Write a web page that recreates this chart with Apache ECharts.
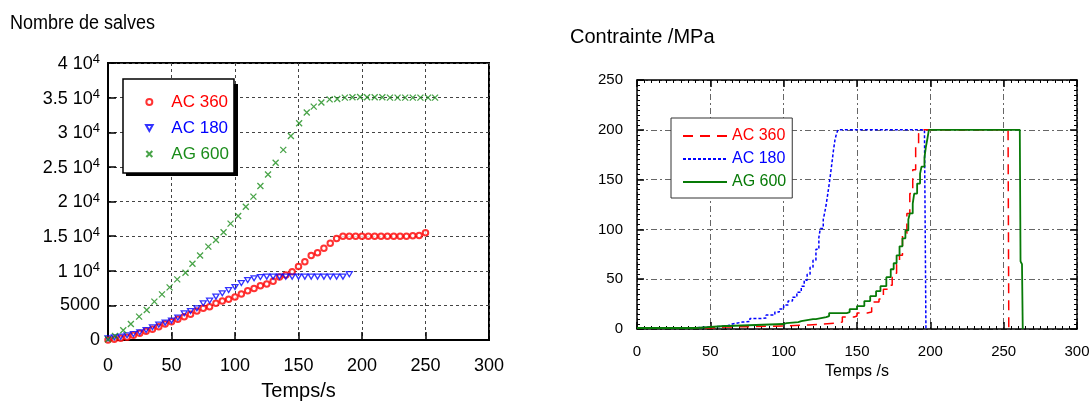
<!DOCTYPE html>
<html><head><meta charset="utf-8">
<script src="https://cdn.jsdelivr.net/npm/echarts@6/dist/echarts.min.js"></script>
<style>
html,body{margin:0;padding:0;background:#fff;}
#wrap{position:relative;width:1090px;height:401px;overflow:hidden;}
#c1{position:absolute;left:0;top:0;width:545px;height:401px;}
#c2{position:absolute;left:545px;top:0;width:545px;height:401px;}
</style>
</head><body><div id="wrap"><div id="c1"></div><div id="c2"></div></div>
<script>
// ---------- Left chart: Nombre de salves vs Temps ----------
const leftTitle = 'Nombre de salves';
const leftXName = 'Temps/s';
const seriesNames = ['AC 360', 'AC 180', 'AG 600'];
const leftYMantissa = ['0', '5000', '1', '1.5', '2', '2.5', '3', '3.5', '4'];
const leftYExponent = ['', '', '4', '4', '4', '4', '4', '4', '4'];

const salvesT_AC360 = [0,5,10,15,20,25,30,35,40,45,50,55,60,65,70,75,80,85,90,95,100,105,110,115,120,125,130,135,140,145,150,155,160,165,170,175,180,185,190,195,200,205,210,215,220,225,230,235,240,245,250];
const salvesV_AC360 = [0,100,245,385,670,960,1250,1540,1930,2310,2650,2980,3370,3710,4190,4570,4810,5290,5630,5870,6200,6650,7100,7450,7850,8090,8500,9100,9400,9850,10600,11300,12200,12600,13240,13960,14650,15000,15000,15000,15000,15000,15000,15000,15000,15000,15000,15000,15050,15100,15500];

const salvesT_AC180 = [0,5,10,15,20,25,30,35,40,45,50,55,60,65,70,75,80,85,90,95,100,105,110,115,120,125,130,135,140,145,150,155,160,165,170,175,180,185,190];
const salvesV_AC180 = [245,390,480,670,870,1110,1440,1830,2210,2500,2790,3220,3850,4190,4570,5290,5680,6260,6740,7220,7650,8230,8660,8900,9100,9150,9150,9150,9150,9150,9150,9150,9150,9150,9150,9150,9150,9150,9500];

const salvesT_AG600 = [0,5.5,12,18,24.5,30.5,36.5,42.5,48.5,54.5,61,66.5,72.5,79,85,91,96.5,102.5,108.5,114.5,120,126,132,138,144,150.5,156.5,162,168,174.5,180.5,186.5,192.5,198.5,204,210,216,222,228,234,240,246,252,257.5];
const salvesV_AG600 = [100,580,1400,2310,3370,4330,5540,6590,7600,8760,9720,11000,12200,13480,14440,15550,16800,17900,19250,20700,22250,23900,25600,27450,29450,31300,32850,33700,34300,34750,34800,35000,35050,35100,35050,35050,35050,35000,35000,35000,35000,35000,35000,35000];

// ---------- Right chart: Contrainte vs Temps ----------
const rightTitle = 'Contrainte /MPa';
const rightXName = 'Temps /s';

const stressT_AC360 = [0,45,50,60,62,100,102,115,117,137,140,148,150,157,160,165,168,171,174,177,179,181,184,186,188,190,192,193,253,253.5];
const stressV_AC360 = [1,1,2,2,3,3,4,4,6,7,12,13,16,17,27,30,40,44,56,65,74,96,116,136,160,183,196,200,200,0];

const stressT_AC180 = [0,38,50,61,65,72,77,84,88,94,97,100,103,106,109,112,114,116,118,120,122,124,125,127,128,129,130,131,132,133,134,135,136,137,196,197];
const stressV_AC180 = [1,2,3,5,7,7.5,10.5,11,14,17,20,24,28,32,37,43,49,55,62,69,80,92,101,110,117,125,135,145,156,168,180,190,196,200,200,0];

const stressT_AG600 = [0,35,40,60,62,100,102,110,112,120,122,129,131,143,145,150,155,159,163,166,170,173,175,177,179,181,183,185,186,188,189,191,193,194,196,197,198,199,261,261.5,262.5,263];
const stressV_AG600 = [1,1,3,3,5,6,7,8,10,10,12,13,16,17,20,23,28,33,38,43,52,60,66,74,83,91,99,110,116,126,136,146,156,163,172,183,191,200,200,68,65,0];

const pairs = (t, v) => t.map((x, i) => [x, v[i]]);
const FONT = '"Liberation Sans", Arial, sans-serif';

const RED = '#ff0000', BLUE = '#0000ff', GREEN_L = '#1a8c1a', GREEN_R = '#077a07';

// ---------------- Left chart ----------------
const c1 = echarts.init(document.getElementById('c1'));
c1.setOption({
  animation: false,
  textStyle: { fontFamily: FONT },
  graphic: [
    {
      type: 'text', x: 10, y: 13, scaleX: 0.9,
      style: { text: leftTitle, fill: '#000', fontSize: 20, fontFamily: FONT }
    },
    {
      type: 'rect', z: 1, silent: true,
      shape: { x: 126, y: 84, width: 112, height: 92 },
      style: { fill: '#000' }
    }
  ],
  grid: { left: 108, top: 63, width: 381, height: 277, show: true, borderColor: '#000', borderWidth: 2,
          backgroundColor: 'transparent', containLabel: false, outerBoundsMode: 'none' },
  legend: {
    z: 20,
    orient: 'vertical', left: 123, top: 79,
    padding: [13, 5, 9, 22], itemWidth: 34, itemHeight: 6, itemGap: 6,
    backgroundColor: '#fff', borderColor: '#000', borderWidth: 1.5,
    textStyle: { fontSize: 17, lineHeight: 20, fontFamily: FONT },
    data: [
      { name: seriesNames[0], textStyle: { color: RED } },
      { name: seriesNames[1], textStyle: { color: BLUE } },
      { name: seriesNames[2], textStyle: { color: GREEN_L } }
    ]
  },
  xAxis: {
    type: 'value', min: 0, max: 300, interval: 50,
    axisLine: { show: true, lineStyle: { color: '#000', width: 2 } },
    axisTick: { show: true, inside: true, length: 8, lineStyle: { color: '#000', width: 1.5 } },
    axisLabel: { color: '#000', fontSize: 18, margin: 17, fontFamily: FONT },
    splitLine: { show: true, lineStyle: { color: '#444', width: 1, type: [3, 3] } },
    name: leftXName, nameLocation: 'middle', nameGap: 41,
    nameTextStyle: { color: '#000', fontSize: 20, fontFamily: FONT }
  },
  yAxis: {
    type: 'value', min: 0, max: 40000, interval: 5000,
    axisLine: { show: true, lineStyle: { color: '#000', width: 2 } },
    axisTick: { show: true, inside: true, length: 8, lineStyle: { color: '#000', width: 1.5 } },
    axisLabel: {
      margin: 8,
      formatter: function (v) {
        const i = Math.round(v / 5000);
        if (leftYExponent[i]) return '{m|' + leftYMantissa[i] + ' 10}{e|' + leftYExponent[i] + '}';
        return '{n|' + leftYMantissa[i] + '}';
      },
      rich: {
        m: { fontSize: 18, color: '#000', fontFamily: FONT, lineHeight: 20, verticalAlign: 'bottom' },
        e: { fontSize: 13, color: '#000', fontFamily: FONT, lineHeight: 14, verticalAlign: 'top', padding: [0, 0, 12, 0] },
        n: { fontSize: 18, color: '#000', fontFamily: FONT, lineHeight: 20 }
      }
    },
    splitLine: { show: true, lineStyle: { color: '#444', width: 1, type: [3, 3] } }
  },
  series: [
    {
      type: 'scatter', name: seriesNames[0], data: pairs(salvesT_AC360, salvesV_AC360),
      symbol: 'emptyCircle', symbolSize: 5.5,
      itemStyle: { color: RED, borderColor: RED, borderWidth: 1 }
    },
    {
      type: 'scatter', name: seriesNames[1], data: pairs(salvesT_AC180, salvesV_AC180),
      symbol: 'path://M0 0L10 0L5 9Z', symbolSize: [6, 5.5], symbolKeepAspect: true,
      itemStyle: { color: 'rgba(255,255,255,0)', borderColor: BLUE, borderWidth: 1.3 }
    },
    {
      type: 'scatter', name: seriesNames[2], data: pairs(salvesT_AG600, salvesV_AG600),
      symbol: 'path://M0 0L10 10M10 0L0 10', symbolSize: 6,
      itemStyle: { color: GREEN_L, borderColor: GREEN_L, borderWidth: 1.3 }
    }
  ]
});

// ---------------- Right chart ----------------
const c2 = echarts.init(document.getElementById('c2'));
const tickStyle = { color: '#000', width: 1.5 };
const frameAxisX = (pos, main) => ({
  type: 'value', min: 0, max: 300, interval: 50, position: pos,
  axisLine: { show: true, onZero: false, lineStyle: { color: '#000', width: 1.5 } },
  axisTick: { show: true, inside: true, length: 7, lineStyle: tickStyle },
  minorTick: { show: true, splitNumber: 10, length: 3, lineStyle: { color: '#000', width: 1 } },
  axisLabel: { show: main, color: '#000', fontSize: 15, margin: 15, fontFamily: FONT },
  splitLine: { show: main, lineStyle: { color: '#666', width: 1, type: [6, 3, 2, 3] } },
  name: main ? rightXName : '', nameLocation: 'middle', nameGap: 35,
  nameTextStyle: { color: '#000', fontSize: 16, fontFamily: FONT }
});
const frameAxisY = (pos, main) => ({
  type: 'value', min: 0, max: 250, interval: 50, position: pos,
  axisLine: { show: true, onZero: false, lineStyle: { color: '#000', width: 1.5 } },
  axisTick: { show: true, inside: true, length: 7, lineStyle: tickStyle },
  minorTick: { show: true, splitNumber: 10, length: 3, lineStyle: { color: '#000', width: 1 } },
  axisLabel: { show: main, color: '#000', fontSize: 15, margin: 14, fontFamily: FONT },
  splitLine: { show: main, lineStyle: { color: '#666', width: 1, type: [6, 3, 2, 3] } }
});
c2.setOption({
  animation: false,
  textStyle: { fontFamily: FONT },
  graphic: [{
    type: 'text', x: 25, y: 27,
    style: { text: rightTitle, fill: '#000', fontSize: 20, fontFamily: FONT }
  }],
  grid: { left: 92, top: 80, width: 440, height: 249, containLabel: false, outerBoundsMode: 'none' },
  legend: {
    orient: 'vertical', left: 126, top: 118,
    padding: [10, 6, 8, 11], itemWidth: 44, itemHeight: 14, itemGap: 7,
    backgroundColor: '#fff', borderColor: '#333', borderWidth: 1,
    itemStyle: { opacity: 0 },
    textStyle: { fontSize: 16, fontFamily: FONT },
    data: [
      { name: seriesNames[0], textStyle: { color: RED } },
      { name: seriesNames[1], textStyle: { color: BLUE } },
      { name: seriesNames[2], textStyle: { color: GREEN_R } }
    ]
  },
  xAxis: [frameAxisX('bottom', true), frameAxisX('top', false)],
  yAxis: [frameAxisY('left', true), frameAxisY('right', false)],
  series: [
    {
      type: 'line', name: seriesNames[1], step: 'end', symbol: 'none',
      data: pairs(stressT_AC180, stressV_AC180),
      itemStyle: { color: BLUE },
      lineStyle: { color: BLUE, width: 1.5, type: [3, 2] }
    },
    {
      type: 'line', name: seriesNames[0], step: 'end', symbol: 'none',
      data: pairs(stressT_AC360, stressV_AC360),
      itemStyle: { color: RED },
      lineStyle: { color: RED, width: 1.5, type: [10, 7] }
    },
    {
      type: 'line', name: seriesNames[2], step: 'end', symbol: 'none',
      data: pairs(stressT_AG600, stressV_AG600),
      itemStyle: { color: GREEN_R },
      lineStyle: { color: GREEN_R, width: 1.8, type: 'solid' }
    }
  ]
});
</script>
</body></html>
